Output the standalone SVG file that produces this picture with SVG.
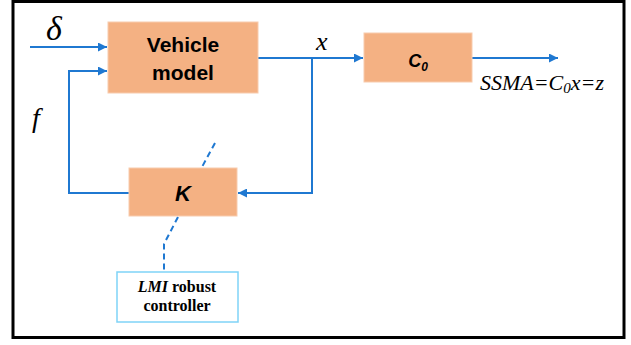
<svg xmlns="http://www.w3.org/2000/svg" width="631" height="345" viewBox="0 0 631 345">
<defs>
<style>
.box{fill:#F4B183;stroke:#F8CBAD;stroke-width:1}
.ln{fill:none;stroke:#1F78D1;stroke-width:2}
.dash{fill:none;stroke:#1F78D1;stroke-width:2;stroke-dasharray:6,4}
.lbl{font-family:"Liberation Sans",Arial,sans-serif;font-weight:bold;fill:#000;text-anchor:middle}
.math{font-family:"Liberation Serif","Times New Roman",serif;font-style:italic;fill:#000}
</style>
<marker id="ah" viewBox="0 0 10 10" refX="10" refY="5" markerWidth="4.5" markerHeight="4.5" orient="auto" markerUnits="strokeWidth">
<path d="M0,0 L10,5 L0,10 z" fill="#1F78D1"/>
</marker>
</defs>
<rect x="0" y="0" width="631" height="345" fill="#fff"/>
<rect x="13" y="1.5" width="611" height="336" fill="none" stroke="#000" stroke-width="3"/>
<g id="connectors">
<line class="ln" x1="30" y1="47" x2="107" y2="47" marker-end="url(#ah)"/>
<polyline class="ln" points="129,193 69,193 69,71 107,71" marker-end="url(#ah)"/>
<line class="ln" x1="258" y1="58" x2="363" y2="58" marker-end="url(#ah)"/>
<polyline class="ln" points="312,58 312,193 238,193" marker-end="url(#ah)"/>
<line class="ln" x1="472" y1="58" x2="558" y2="58" marker-end="url(#ah)"/>
<line class="dash" x1="215" y1="143" x2="202" y2="167"/>
<polyline class="dash" points="178,217 164,244 164,272"/>
</g>
<g id="vehicle">
<rect class="box" x="108" y="22" width="150" height="71"/>
<text class="lbl" x="183" y="52" font-size="21">Vehicle</text>
<text class="lbl" x="183" y="80" font-size="21">model</text>
</g>
<g id="c0">
<rect class="box" x="364" y="33" width="108" height="49"/>
<text class="lbl" x="418" y="67" font-size="18" font-style="italic">C<tspan font-size="12" dy="4">0</tspan></text>
</g>
<g id="k">
<rect class="box" x="129" y="168" width="108" height="48"/>
<text class="lbl" x="183" y="201" font-size="22" font-style="italic">K</text>
</g>
<g id="lmi">
<rect x="117" y="272" width="121" height="50" fill="#fff" stroke="#7FD3F7" stroke-width="1.5"/>
<text x="177" y="292" font-family="'Liberation Serif','Times New Roman',serif" font-weight="bold" font-size="16" text-anchor="middle"><tspan font-style="italic">LMI</tspan> robust</text>
<text x="177" y="311" font-family="'Liberation Serif','Times New Roman',serif" font-weight="bold" font-size="16" text-anchor="middle">controller</text>
</g>
<text class="math" x="46" y="40" font-size="34">δ</text>
<text class="math" x="32" y="127" font-size="28">f</text>
<text class="math" x="316" y="50" font-size="26">x</text>
<text class="math" x="480" y="90" font-size="22" fill="#333">SSMA=C<tspan font-size="15" dy="3">0</tspan><tspan dy="-3">x=z</tspan></text>
</svg>
